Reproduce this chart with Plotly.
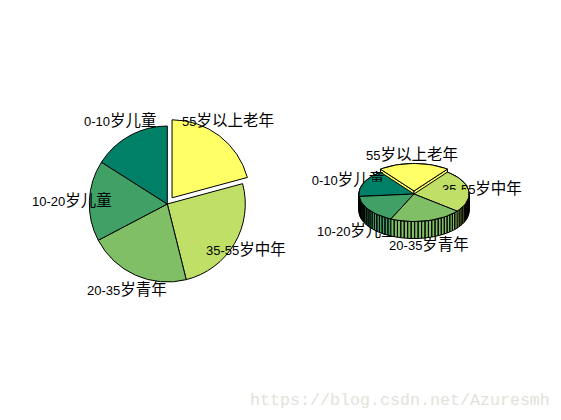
import re
import numpy as np
import plotly.graph_objects as go

# ---- data ----
labels = ["0-10岁儿童", "10-20岁儿童", "20-35岁青年", "35-55岁中年", "55岁以上老年"]
values = [16.0, 16.7, 21.2, 25.3, 20.8]
pull = [0, 0, 0, 0, 0.1]
colors = ["#008066", "#40A066", "#80BF66", "#BFDF66", "#FFFF66"]
watermark = "https://blog.csdn.net/Azuresmh"

W, H = 561, 420
FONT = "Liberation Sans, Noto Sans CJK SC, sans-serif"
FS = 13


def styled(s):
    """Latin digits stay small, CJK runs are set a little larger, like the original."""
    return re.sub(r"([^\x00-\x7f]+)", r'<span style="font-size:15.5px">\1</span>', s)


# label anchor centres (px)
left_pos = [(120, 120), (72, 200), (127, 289), (246, 249), (228, 121)]
right_pos = [(348, 182), (357, 233), (429, 247), (482, 191), (412, 157)]
# windows (x0, x1, bottom row) where a label pokes through the solid
poke = {0: ("x2", "y2", 372.0, 400.0, 181.5), 3: ("x3", "y3", 430.0, 466.0, 190.0)}

fig = go.Figure()


def add_text(lab, x, y, xa="x", ya="y"):
    fig.add_trace(go.Scatter(x=[x], y=[y], mode="text", text=[styled(lab)], textposition="middle center",
                             textfont=dict(family=FONT, size=FS, color="black"), cliponaxis=True,
                             hoverinfo="skip", showlegend=False, xaxis=xa, yaxis=ya))


# ---- right: 3-D pie projected on hidden pixel axes ----
cx, cy, a, b, depth, off = 414.0, 194.0, 55.0, 27.5, 17.0, 3.0
start = -37.5  # degrees clockwise from north where the exploded slice begins
vals = np.array(values, float)
sweep = vals / vals.sum() * 360.0
bounds = {}
cur = start
for i in [4, 3, 2, 1, 0]:
    bounds[i] = (cur, cur + sweep[i])
    cur += sweep[i]


def pt(th, oy=0.0):
    t = np.radians(th)
    return cx + a * np.sin(t), cy - b * np.cos(t) + oy


def add_poly(xs, ys, color):
    fig.add_trace(go.Scatter(x=xs, y=ys, mode="lines", fill="toself", fillcolor=color,
                             line=dict(color="black", width=1), hoverinfo="skip",
                             showlegend=False))


# labels go underneath the solid, so the solid hides parts of them
for lab, (x, y) in zip(labels, right_pos):
    add_text(lab, x, y)


def slice_parts(i):
    t0, t1 = bounds[i]
    n = max(2, int(round((t1 - t0) / 3.6)))
    th = np.linspace(t0, t1, n + 1)
    oy = -off if pull[i] else 0.0
    wx, wy = [], []
    for p, q in zip(th[:-1], th[1:]):
        x0, y0 = pt(p, oy)
        x1, y1 = pt(q, oy)
        wx += [x0, x1, x1, x0, x0, None]
        wy += [y0, y1, y1 + depth, y0 + depth, y0, None]
    add_poly(wx, wy, colors[i])
    ax, ay = cx, cy + oy
    if pull[i]:  # only the exploded slice shows its radial sides
        for t in (t0, t1):
            rx, ry = pt(t, oy)
            add_poly([ax, rx, rx, ax, ax], [ay, ry, ry + depth, ay + depth, ay], colors[i])
    tx = [ax] + [pt(t, oy)[0] for t in th] + [ax]
    ty = [ay] + [pt(t, oy)[1] for t in th] + [ay]
    return tx, ty


tops = []
for i in [4, 0, 3, 1, 2]:
    tops.append((i, slice_parts(i)))
    if i == 4:
        add_poly(tops[-1][1][0], tops[-1][1][1], colors[4])
for i, (tx, ty) in tops:
    if i != 4:
        add_poly(tx, ty, colors[i])

# tops of two labels rise through the solid: re-draw them clipped to a small window on it
for i, (xa, ya, *_) in poke.items():
    add_text(labels[i], right_pos[i][0], right_pos[i][1], xa, ya)

# ---- left: real pie (clockwise from north, exploded slice first) ----
pcx, pcy, pr = 167.3, 204.0, 78.0
half = pr * (1 + max(pull))
fig.add_trace(go.Pie(
    labels=labels[::-1], values=values[::-1], sort=False, direction="clockwise", rotation=0,
    pull=pull[::-1], textinfo="none", hoverinfo="label+percent", showlegend=False,
    marker=dict(colors=colors[::-1], line=dict(color="black", width=1)),
    domain=dict(x=[(pcx - half) / W, (pcx + half) / W],
                y=[1 - (pcy + half) / H, 1 - (pcy - half) / H]),
))

for lab, (x, y) in zip(labels, left_pos):
    fig.add_annotation(x=x / W, y=1 - y / H, xref="paper", yref="paper", text=styled(lab), showarrow=False,
                       xanchor="center", yanchor="middle", font=dict(family=FONT, size=FS, color="black"))

fig.add_annotation(x=400 / W, y=1 - 400 / H, xref="paper", yref="paper", text=watermark, showarrow=False,
                   xanchor="center", yanchor="middle",
                   font=dict(family="Liberation Mono, monospace", size=16.67, color="#E2E2DA"))

axis = dict(visible=False, fixedrange=True)
layout_axes = dict(
    xaxis=dict(range=[0, W], domain=[0, 1], **axis),
    yaxis=dict(range=[H, 0], domain=[0, 1], **axis),
)
for i, (xa, ya, x0, x1, row) in poke.items():
    xn, yn = xa.replace("x", "xaxis"), ya.replace("y", "yaxis")
    layout_axes[xn] = dict(range=[x0, x1], domain=[x0 / W, x1 / W], anchor=ya, **axis)
    layout_axes[yn] = dict(range=[row, 0], domain=[1 - row / H, 1], anchor=xa, **axis)

fig.update_layout(
    width=W, height=H, margin=dict(l=0, r=0, t=0, b=0), paper_bgcolor="white", plot_bgcolor="rgba(0,0,0,0)",
    showlegend=False, **layout_axes,
)
fig.write_html("out.html", config=dict(displayModeBar=False),
               post_script="document.body.style.margin='0';document.body.style.overflow='hidden';")
